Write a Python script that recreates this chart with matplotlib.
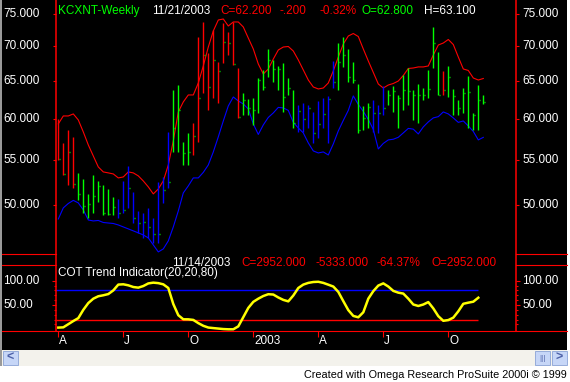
import numpy as np
import pandas as pd
import matplotlib
matplotlib.use("Agg")
import matplotlib.pyplot as plt
import matplotlib.transforms as mtransforms
from matplotlib.lines import Line2D
from matplotlib.patches import Rectangle

plt.rcParams['font.family'] = ['Liberation Sans', 'DejaVu Sans']

# weekly bars, last one dated 11/21/2003
last_date = "2003-11-21"
n_bars = 86

high = [60.00, 57.00, 58.60, 57.74, 53.48, 52.79, 51.14, 53.25, 52.57, 52.13,
        51.68, 50.81, 50.60, 52.57, 54.28, 51.35, 49.32, 49.11, 49.64, 48.59,
        52.46, 53.02, 58.35, 63.80, 64.48, 57.13, 58.23, 59.48, 71.42, 73.74,
        69.03, 72.49, 67.72, 73.58, 72.18, 73.74, 66.86, 63.40, 62.59, 62.73,
        65.45, 66.58, 69.62, 68.01, 67.15, 67.58, 65.45, 63.80, 61.80, 62.06,
        61.80, 60.89, 62.33, 62.73, 63.00, 67.87, 70.51, 71.42, 69.62, 67.72,
        64.62, 61.67, 62.06, 62.46, 61.80, 64.34, 63.80, 64.34, 63.13, 65.87,
        66.86, 63.80, 64.62, 64.07, 66.58, 72.96, 69.17, 66.44, 67.15, 63.94,
        62.46, 64.07, 65.73, 60.76, 64.48, 63.10]
low = [54.98, 53.25, 52.13, 51.80, 50.49, 49.11, 48.59, 49.11, 50.27, 48.90,
       48.90, 48.90, 48.59, 49.11, 49.64, 48.07, 47.07, 46.57, 46.57, 46.08,
       46.08, 50.17, 51.80, 55.92, 55.92, 54.39, 54.39, 55.56, 57.13, 63.40,
       61.15, 62.73, 62.06, 67.58, 68.73, 67.29, 60.12, 60.50, 60.50, 59.23,
       60.76, 63.80, 65.59, 64.89, 63.80, 60.89, 63.13, 58.85, 58.35, 58.35,
       58.85, 57.00, 57.61, 58.85, 57.00, 64.07, 63.80, 67.01, 64.89, 64.76,
       58.23, 58.60, 58.85, 58.35, 58.23, 60.50, 61.80, 60.89, 58.85, 61.15,
       61.80, 59.86, 59.48, 62.46, 62.73, 66.86, 63.13, 63.13, 62.86, 60.50,
       60.50, 60.76, 58.85, 58.60, 58.60, 61.90]
close = [55.10, 53.36, 55.92, 52.24, 51.14, 49.85, 50.06, 50.92, 52.02, 49.11,
         49.00, 49.74, 49.11, 49.43, 51.80, 48.59, 48.07, 48.18, 47.67, 46.96,
         46.96, 51.57, 52.46, 58.85, 61.15, 55.80, 55.92, 57.86, 62.73, 68.73,
         64.21, 68.01, 66.44, 70.66, 70.51, 67.43, 60.24, 62.46, 61.41, 61.15,
         65.17, 64.21, 68.01, 66.72, 66.72, 62.86, 64.07, 59.48, 61.02, 59.99,
         61.41, 58.23, 59.36, 60.63, 62.59, 64.89, 67.72, 68.73, 65.59, 65.17,
         58.60, 60.12, 61.54, 60.76, 60.76, 61.41, 63.13, 63.67, 62.73, 63.80,
         63.67, 63.13, 63.13, 63.13, 63.94, 70.51, 63.13, 63.80, 65.59, 63.00,
         61.41, 63.40, 63.53, 60.50, 62.46, 62.20]

# envelope bands
upper = [59.36, 60.37, 60.37, 60.63, 59.86, 58.35, 56.76, 55.44, 54.16, 53.59,
         53.48, 53.36, 52.91, 53.02, 53.59, 53.48, 53.14, 52.57, 51.91, 51.14,
         51.68, 52.57, 54.39, 57.25, 60.89, 62.20, 63.13, 63.13, 64.76, 67.15,
         69.91, 72.34, 74.05, 74.21, 73.11, 73.74, 73.74, 72.96, 71.26, 69.62,
         67.43, 66.01, 66.72, 68.14, 69.47, 69.91, 69.99, 69.32, 68.01, 66.58,
         65.17, 64.21, 63.94, 64.07, 64.76, 66.44, 68.43, 70.36, 71.57, 71.95,
         71.49, 69.62, 67.87, 66.23, 64.62, 64.07, 64.48, 64.69, 65.03, 65.80,
         66.79, 66.86, 67.01, 67.01, 67.15, 68.73, 70.21, 70.51, 71.04, 70.28,
         68.44, 66.72, 66.51, 65.45, 65.17, 65.38]
lower = [48.48, 49.64, 50.11, 50.44, 50.17, 49.43, 48.38, 48.28, 48.33, 48.12,
         48.07, 48.02, 47.87, 47.67, 47.47, 47.27, 47.07, 46.86, 46.57, 45.88,
         45.20, 45.49, 46.27, 47.67, 49.32, 51.25, 52.02, 52.91, 52.91, 53.54,
         54.39, 55.92, 57.74, 59.73, 61.67, 62.86, 62.33, 61.93, 61.28, 59.36,
         58.04, 59.23, 60.18, 60.76, 61.48, 61.41, 61.09, 59.55, 58.85, 58.23,
         57.00, 56.04, 55.80, 55.92, 55.56, 56.88, 58.48, 59.80, 61.09, 63.00,
         61.87, 60.96, 59.92, 58.66, 56.28, 56.94, 57.37, 57.45, 57.69, 58.23,
         58.79, 58.70, 58.10, 58.98, 59.61, 60.12, 60.28, 60.89, 60.63, 60.12,
         59.55, 59.73, 59.10, 58.41, 57.37, 57.68]

# bar state: R = below 20, G = between, B = above 80
bar_state = ("R" * 4 + "G" * 8 + "B" * 11 + "G" * 4 + "R" * 10 + "G" * 11
             + "B" * 8 + "G" * 7 + "B" * 3 + "G" * 11 + "R" * 1 + "G" * 8)

# COT trend indicator (one week behind, ends 11/14/2003)
cot = [3.5, 4, 10.5, 17, 23, 40, 54, 63, 68, 70,
       72.5, 80, 92, 92.6, 90.5, 87, 85.7, 89, 94.4, 96,
       95, 92.5, 85, 52, 29, 20.6, 20.5, 19.3, 12.7, 7.2,
       3.6, 2.5, 1.5, 0.5, 0, 0, 6, 25, 44, 56.5,
       63, 68.5, 72.2, 71.5, 65.5, 60.5, 57.5, 69.5, 85, 92,
       95.5, 97.3, 97.8, 95.5, 91.8, 88, 77, 58, 39.5, 27.5,
       24.7, 35, 63, 78.5, 90, 94.5, 88, 79, 75.4, 73.5,
       63, 51, 48, 51, 56, 43, 27, 17.5, 19, 24,
       37, 52.5, 54.8, 56.8, 65]

price_ticks = [50, 55, 60, 65, 70, 75]
cot_ticks = [50, 100]

RED, GRN, BLU, WHT, YEL = '#ff0000', '#00ff00', '#0000ff', '#ffffff', '#ffff00'
state_clr = {'R': RED, 'G': GRN, 'B': BLU}

W, H = 570, 382
FS = 8.5


def fx(x):
    return x / W


def fy(y):
    return 1 - y / H


fig = plt.figure(figsize=(W / 100, H / 100), dpi=100, facecolor='white')

# window background
fig.add_artist(Rectangle((fx(2), fy(350)), 565 / W, 350 / H, transform=fig.transFigure,
                         facecolor='black', edgecolor='none', zorder=-10))
fig.add_artist(Rectangle((0, fy(366)), 2 / W, 366 / H, transform=fig.transFigure,
                         facecolor='#9a9a9a', edgecolor='none', zorder=-10))
fig.add_artist(Rectangle((fx(2), fy(366)), 565 / W, 16 / H, transform=fig.transFigure,
                         facecolor='#f3f2ec', edgecolor='none', zorder=-10))
for bx in [3, 535, 552]:
    fig.add_artist(Rectangle((fx(bx), fy(365)), 15 / W, 14 / H, transform=fig.transFigure,
                             facecolor='#c6d6f7', edgecolor='#8aa3d6', lw=0.6, zorder=-9))
fig.text(fx(10.5), fy(358), '<', color='#4d61a8', fontsize=9, fontweight='bold',
         ha='center', va='center')
fig.text(fx(542.5), fy(358), '|||', color='#4d61a8', fontsize=6, ha='center', va='center')
fig.text(fx(559.5), fy(358), '>', color='#4d61a8', fontsize=9, fontweight='bold',
         ha='center', va='center')
fig.text(fx(567), fy(375.5), 'Created with Omega Research ProSuite 2000i \u00a9 1999',
         color='black', fontsize=7.8, ha='right', va='center')

x = np.arange(n_bars)
dates = pd.date_range(end=last_date, periods=n_bars, freq='W-FRI')
xlim = (-0.46, 91.54)

# price panel
ax = fig.add_axes([fx(56), fy(254), 460 / W, 254 / H])
ax.set_facecolor('none')
ax.set_yscale('log')
ax.set_xlim(xlim)
ax.set_ylim(45.0, 77.27)
ax.plot(x, upper, color=RED, lw=0.8)
ax.plot(x, lower, color=BLU, lw=0.8)
ax.vlines(x, low, high, colors=[state_clr[s] for s in bar_state], lw=1.0)
ax.hlines(close, x + 0.05, x + 0.4, colors=GRN, lw=1.0)
ax.set_yticks(price_ticks)
ax.yaxis.set_minor_locator(plt.NullLocator())
ax.set_xticks([])
ax.tick_params(axis='y', which='major', direction='out', length=2.5, width=0.8,
               color=RED, left=True, right=True, labelleft=False, labelright=False)
for s in ax.spines.values():
    s.set_visible(False)
tr = mtransforms.blended_transform_factory(fig.transFigure, ax.transData)
for t in price_ticks:
    ax.text(fx(3), t, f'{t:.3f}', transform=tr, color=WHT, fontsize=FS, va='center', ha='left')
    ax.text(fx(522), t, f'{t:.3f}', transform=tr, color=WHT, fontsize=FS, va='center', ha='left')

title = [(58, 'KCXNT-Weekly', GRN), (152, '11/21/2003', WHT), (220, 'C=62.200', RED),
         (280, '-.200', RED), (320, '-0.32%', RED), (362, 'O=62.800', GRN),
         (424, 'H=63.100', WHT)]
for tx, s, c in title:
    fig.text(fx(tx), fy(11), s, color=c, fontsize=FS, va='center', ha='left')

# indicator panel
ax2 = fig.add_axes([fx(56), fy(331), 460 / W, 66 / H])
ax2.set_facecolor('none')
ax2.set_xlim(xlim)
ax2.set_ylim(-3.5, 132.3)
xc = np.arange(len(cot))
ax2.hlines([80], xlim[0], xc[-1], colors=BLU, lw=1.0)
ax2.hlines([20], xlim[0], xc[-1], colors=RED, lw=1.0)
ax2.plot(xc, cot, color=YEL, lw=1.8, solid_joinstyle='round')
ax2.set_yticks(cot_ticks)
ax2.set_yticks([10, 20, 30, 40, 60, 70, 80, 90], minor=True)
ax2.tick_params(axis='y', which='major', direction='out', length=3, width=0.8,
                color=RED, left=True, right=True, labelleft=False, labelright=False)
ax2.tick_params(axis='y', which='minor', direction='out', length=1.5, width=0.8,
                color=RED, left=True, right=True)
for s in ax2.spines.values():
    s.set_visible(False)
tr2 = mtransforms.blended_transform_factory(fig.transFigure, ax2.transData)
for t in cot_ticks:
    ax2.text(fx(3), t, f'{t:.2f}', transform=tr2, color=WHT, fontsize=FS, va='center', ha='left')
    ax2.text(fx(522), t, f'{t:.2f}', transform=tr2, color=WHT, fontsize=FS, va='center', ha='left')

# quarter ticks on the time axis
q_idx, q_lab = [], []
for i, d in enumerate(dates):
    if d.month in (1, 4, 7, 10) and (i == 0 or dates[i - 1].month != d.month):
        q_idx.append(i)
        q_lab.append(str(d.year) if d.month == 1 else d.strftime('%b')[0])
ax2.set_xticks(q_idx)
ax2.tick_params(axis='x', direction='out', length=4, width=0.8, color=RED, labelbottom=False)
trx = mtransforms.blended_transform_factory(ax2.transData, fig.transFigure)
for i, lab in zip(q_idx, q_lab):
    ax2.text(i + 0.2, fy(341.5), lab, transform=trx, color=WHT, fontsize=FS, va='center', ha='left')

fig.text(fx(58), fy(273), 'COT Trend Indicator(20,20,80)', color=WHT, fontsize=FS,
         va='center', ha='left')
sub = [(172, '11/14/2003', WHT), (241, 'C=2952.000', RED), (315, '-5333.000', RED),
       (377, '-64.37%', RED), (432, 'O=2952.000', RED)]
for tx, s, c in sub:
    fig.text(fx(tx), fy(262.5), s, color=c, fontsize=FS, va='center', ha='left')

# frame lines
for yy in [254, 265]:
    fig.add_artist(Line2D([fx(2), fx(56)], [fy(yy)] * 2, color=RED, lw=0.8))
    fig.add_artist(Line2D([fx(516), fx(567)], [fy(yy)] * 2, color=RED, lw=0.8))
fig.add_artist(Line2D([fx(2), fx(567)], [fy(331)] * 2, color=RED, lw=0.8))
for xx in [56, 516]:
    fig.add_artist(Line2D([fx(xx)] * 2, [fy(0), fy(331)], color=RED, lw=1.1))

fig.savefig('out.png', dpi=100, facecolor=fig.get_facecolor())
